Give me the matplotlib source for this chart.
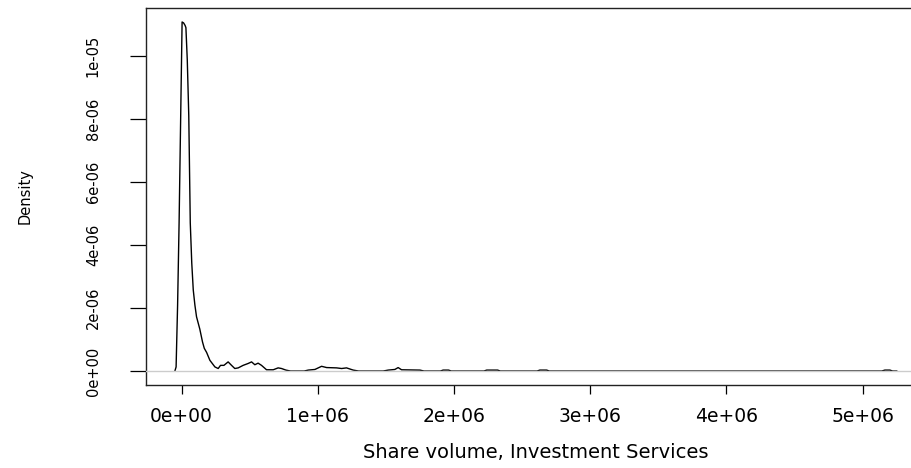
import matplotlib
matplotlib.use("Agg")
import matplotlib.pyplot as plt
import numpy as np
from matplotlib import font_manager

# density curve: x in millions of shares, density in 1e-06
volume_m = [-0.049, -0.040, -0.029, -0.018, -0.007, 0.004, 0.015, 0.026, 0.032,
            0.042, 0.053, 0.064, 0.075, 0.086, 0.098, 0.110, 0.134, 0.154, 0.167,
            0.184, 0.208, 0.245, 0.269, 0.286, 0.311, 0.342, 0.367, 0.391, 0.416,
            0.452, 0.489, 0.514, 0.538, 0.562, 0.587, 0.624, 0.673, 0.709, 0.734,
            0.766, 0.800, 0.900, 0.930, 0.979, 1.028, 1.065, 1.138, 1.175, 1.211,
            1.260, 1.300, 1.480, 1.517, 1.566, 1.590, 1.615, 1.750, 1.780, 1.900,
            1.920, 1.960, 1.980, 2.220, 2.240, 2.320, 2.340, 2.610, 2.630, 2.680,
            2.700, 5.140, 5.163, 5.200, 5.220, 5.250]
density_e6 = [0.00, 0.13, 2.09, 4.71, 7.88, 11.07, 11.04, 10.96, 10.89,
              9.87, 8.10, 4.70, 3.42, 2.57, 2.09, 1.72, 1.33, 0.92, 0.72,
              0.59, 0.34, 0.13, 0.08, 0.18, 0.18, 0.29, 0.18, 0.08, 0.10,
              0.18, 0.24, 0.29, 0.20, 0.25, 0.18, 0.04, 0.04, 0.10, 0.08,
              0.03, 0.00, 0.00, 0.03, 0.05, 0.15, 0.11, 0.10, 0.08, 0.10,
              0.03, 0.00, 0.00, 0.03, 0.05, 0.11, 0.04, 0.03, 0.00, 0.00,
              0.03, 0.03, 0.00, 0.00, 0.03, 0.03, 0.00, 0.00, 0.03, 0.03,
              0.00, 0.00, 0.03, 0.03, 0.00, 0.00]

xticks = [0, 1e6, 2e6, 3e6, 4e6, 5e6]
xtick_labels = ["0e+00", "1e+06", "2e+06", "3e+06", "4e+06", "5e+06"]
yticks = [0, 2e-6, 4e-6, 6e-6, 8e-6, 1e-5]
ytick_labels = ["0e+00", "2e-06", "4e-06", "6e-06", "8e-06", "1e-05"]

x = np.array(volume_m) * 1e6
d = np.array(density_e6) * 1e-6

# rotated text looks condensed in the reference, so use a narrow face if there is one
names = {f.name for f in font_manager.fontManager.ttflist}
if "Liberation Sans Narrow" in names:
    rot_family, rot_size = "Liberation Sans Narrow", 14
elif "DejaVu Sans Condensed" in names:
    rot_family, rot_size = "DejaVu Sans Condensed", 11.5
else:
    rot_family, rot_size = "DejaVu Sans", 10.5

fig = plt.figure(figsize=(9.12, 4.68), dpi=100)
ax = fig.add_axes([146 / 912, 83 / 468, 779.6 / 912, 377 / 468])

ax.plot(x, d, color="black", lw=1.0, zorder=2)
ax.axhline(0, color="#cccccc", lw=1.0, zorder=3)

pad = 0.04 * (x.max() - x.min())
ax.set_xlim(x.min() - pad, x.max() + pad)
ax.set_ylim(-0.04 * d.max(), 1.04 * d.max())

ax.set_xticks(xticks)
ax.set_xticklabels(xtick_labels, family="DejaVu Sans", fontsize=13.5)
ax.set_yticks(yticks)
ax.set_yticklabels(ytick_labels, family=rot_family, fontsize=rot_size,
                   rotation=90, va="center")
ax.tick_params(axis="x", length=6.5, width=0.9, pad=9.5, colors="black")
ax.tick_params(axis="y", length=11.5, width=0.9, pad=21, colors="black")

for s in ax.spines.values():
    s.set_color("#222222")
    s.set_linewidth(1.0)

ax.set_xlabel("Share volume, Investment Services", family="DejaVu Sans",
              fontsize=14, va="center")
ax.xaxis.set_label_coords(0.5, (385 - 453) / 377)
ax.set_ylabel("Density", family=rot_family, fontsize=rot_size, va="center")
ax.yaxis.set_label_coords((25 - 146) / 779.6, 0.5)

fig.savefig("out.png", dpi=100, facecolor="white")
